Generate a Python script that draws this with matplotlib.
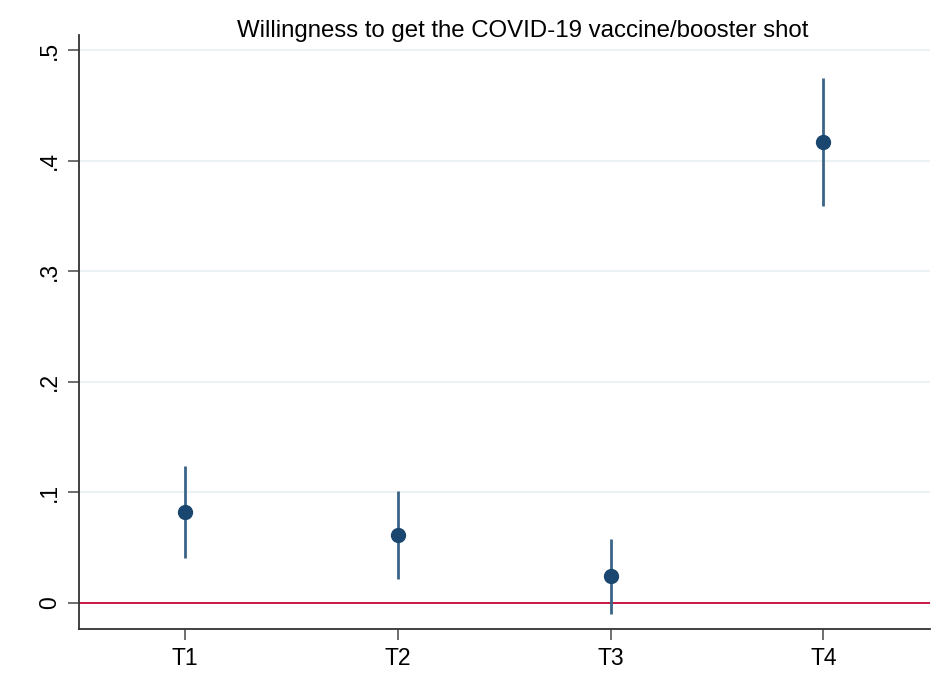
import numpy as np
import matplotlib.pyplot as plt

plt.rcParams['font.family'] = ['Liberation Sans', 'DejaVu Sans']

groups = ['T1', 'T2', 'T3', 'T4']
estimates = [0.082, 0.0615, 0.0245, 0.417]
ci_low = [0.041, 0.0215, -0.010, 0.359]
ci_high = [0.124, 0.101, 0.058, 0.475]

x = np.arange(1, len(groups) + 1)
est = np.array(estimates)
lo = np.array(ci_low)
hi = np.array(ci_high)

fig = plt.figure(figsize=(9.4, 6.91), dpi=100)
ax = fig.add_axes([0.084, 0.0897, 0.905, 0.8596])

for yv in [0.1, 0.2, 0.3, 0.4, 0.5]:
    ax.axhline(yv, color='#eaf2f3', lw=1.5, zorder=0)
ax.axhline(0, color='#c10534', lw=1.3, zorder=1)

ax.vlines(x, lo, hi, color='#3a6488', lw=2, zorder=2)
ax.plot(x, est, 'o', color='#1a476f', ms=10, zorder=3)

ax.set_xlim(0.5, 4.5)
ax.set_ylim(-0.0235, 0.5135)
ax.set_xticks(x)
ax.set_xticklabels(groups, fontsize=16.5)
ax.set_yticks([0, 0.1, 0.2, 0.3, 0.4, 0.5])
ax.set_yticklabels(['0', '.1', '.2', '.3', '.4', '.5'], fontsize=16.5,
                   rotation=90, va='center')
ax.tick_params(axis='both', length=8, width=1.2, color='#555555', pad=5)

for side in ['top', 'right']:
    ax.spines[side].set_visible(False)
for side in ['left', 'bottom']:
    ax.spines[side].set_color('#333333')
    ax.spines[side].set_linewidth(1.3)

fig.text(523 / 940, 1 - 31 / 691,
         'Willingness to get the COVID-19 vaccine/booster shot',
         ha='center', va='center', fontsize=17.3)

fig.savefig('out.png', dpi=100)
